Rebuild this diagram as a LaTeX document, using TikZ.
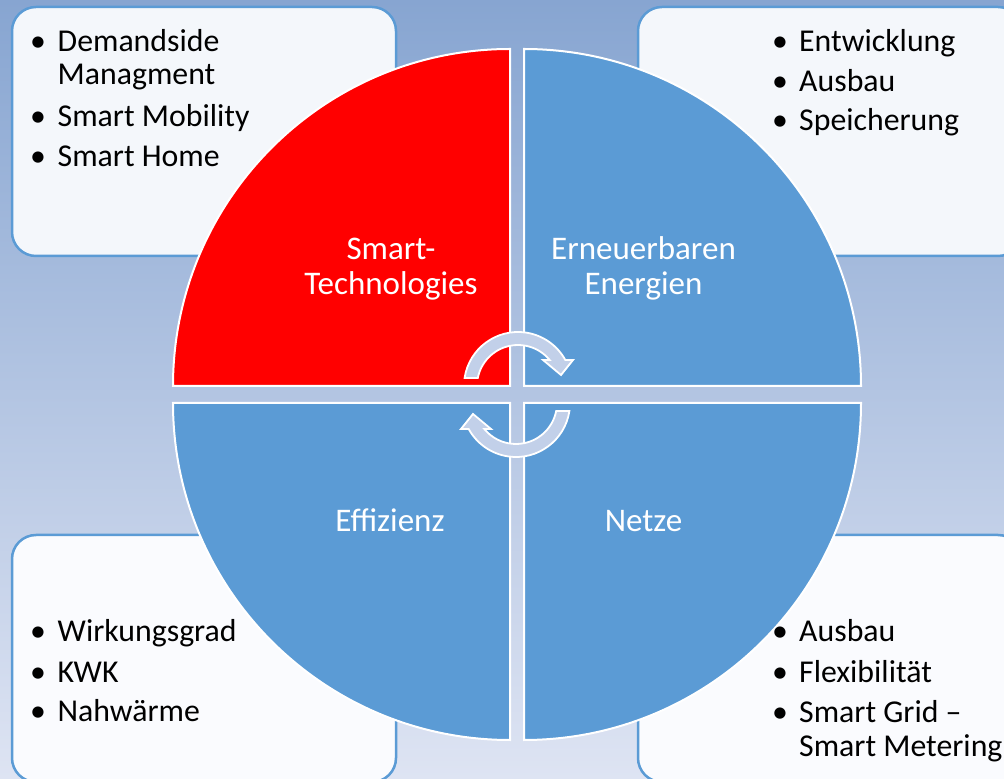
\documentclass[tikz,border=0pt]{standalone}
\usepackage{fontspec}
\setmainfont{Carlito}
\usetikzlibrary{calc}
\definecolor{bgtop}{HTML}{87A5D1}
\definecolor{bgbot}{HTML}{DEE4F3}
\definecolor{qblue}{HTML}{5B9BD5}
\definecolor{qred}{HTML}{FF0000}
\definecolor{boxfill}{HTML}{F4F7FB}
\definecolor{boxfillb}{HTML}{FAFBFE}
\definecolor{arrowfill}{HTML}{C2D0E9}
\tikzset{
  infobox/.style={draw=qblue, line width=2.5pt, rounded corners=24pt},
  quad/.style={draw=white, line width=2pt},
  cycarrow/.style={fill=arrowfill, draw=white, line width=1.8pt, line join=miter},
  qlabel/.style={inner sep=0pt, anchor=base, text=white, font=\fontsize{33}{35}\selectfont},
  bul/.style={inner sep=0pt, anchor=base, font=\fontsize{31.8}{33}\selectfont},
  itemtext/.style={inner sep=0pt, anchor=base west, font=\fontsize{31.8}{33}\selectfont},
}
\begin{document}
\begin{tikzpicture}[x=1pt,y=1pt]
\useasboundingbox (0,0) rectangle (1004,779);
\begin{scope}
\clip (0,0) rectangle (1004,779);
% background
\shade[top color=bgtop, bottom color=bgbot] (0,0) rectangle (1004,779);
% corner boxes
\path[infobox, fill=boxfill] (12,523) rectangle (396,772);
\path[infobox, fill=boxfill] (638,523) rectangle (1022,772);
\path[infobox, fill=boxfillb] (12,-3) rectangle (396,244);
\path[infobox, fill=boxfillb] (638,-3) rectangle (1022,244);
% quadrants
\path[quad, fill=qred] (510,393) -- (173,393) arc[start angle=180, end angle=90, radius=337pt] -- cycle;
\path[quad, fill=qblue] (524,393) -- (524,730) arc[start angle=90, end angle=0, radius=337pt] -- cycle;
\path[quad, fill=qblue] (510,376) -- (173,376) arc[start angle=180, end angle=270, radius=337pt] -- cycle;
\path[quad, fill=qblue] (524,376) -- (861,376) arc[start angle=0, end angle=-90, radius=337pt] -- cycle;
% circular arrows
\path[cycarrow] ($(518,393)+(171.48:54pt)$) arc[start angle=171.48, end angle=28.8, radius=54pt]
  -- (573,419) -- (561,404) -- (543,419)
  -- ($(518,393)+(39.4:41pt)$) arc[start angle=39.4, end angle=168.75, radius=41pt] -- cycle;
\begin{scope}[rotate around={180:(517,384.5)}]
\path[cycarrow] ($(518,393)+(171.48:54pt)$) arc[start angle=171.48, end angle=28.8, radius=54pt]
  -- (573,419) -- (561,404) -- (543,419)
  -- ($(518,393)+(39.4:41pt)$) arc[start angle=39.4, end angle=168.75, radius=41pt] -- cycle;
\end{scope}
% quadrant labels
\node[qlabel] (st1) at (391,519) {Smart-};
\node[qlabel] (st2) at (391,484) {Technologies};
\node[qlabel] (ee1) at (643.5,519) {Erneuerbaren};
\node[qlabel] (ee2) at (643.5,484) {Energien};
\node[qlabel] (ef) at (390,247) {Effizienz};
\node[qlabel] (nz) at (643.5,247) {Netze};
% top-left list
\node[bul] (tlb1) at (38,727) {\textbullet};
\node[itemtext] (tlt1) at (57.5,727) {Demandside};
\node[itemtext] (tlt1b) at (57.5,694) {Managment};
\node[bul] (tlb2) at (38,652) {\textbullet};
\node[itemtext] (tlt2) at (57.5,652) {Smart Mobility};
\node[bul] (tlb3) at (38,612) {\textbullet};
\node[itemtext] (tlt3) at (57.5,612) {Smart Home};
% top-right list
\node[bul] (trb1) at (780,727) {\textbullet};
\node[itemtext] (trt1) at (799,727) {Entwicklung};
\node[bul] (trb2) at (780,687) {\textbullet};
\node[itemtext] (trt2) at (799,687) {Ausbau};
\node[bul] (trb3) at (780,648) {\textbullet};
\node[itemtext] (trt3) at (799,648) {Speicherung};
% bottom-left list
\node[bul] (blb1) at (38,137) {\textbullet};
\node[itemtext] (blt1) at (57.5,137) {Wirkungsgrad};
\node[bul] (blb2) at (38,96) {\textbullet};
\node[itemtext] (blt2) at (57.5,96) {KWK};
\node[bul] (blb3) at (38,57) {\textbullet};
\node[itemtext] (blt3) at (57.5,57) {Nahwärme};
% bottom-right list
\node[bul] (brb1) at (780,137) {\textbullet};
\node[itemtext] (brt1) at (799,137) {Ausbau};
\node[bul] (brb2) at (780,96) {\textbullet};
\node[itemtext] (brt2) at (799,96) {Flexibilität};
\node[bul] (brb3) at (780,56) {\textbullet};
\node[itemtext] (brt3) at (799,56) {Smart Grid –};
\node[itemtext] (brt3b) at (799,22) {Smart Metering};
\end{scope}
\end{tikzpicture}
\end{document}
